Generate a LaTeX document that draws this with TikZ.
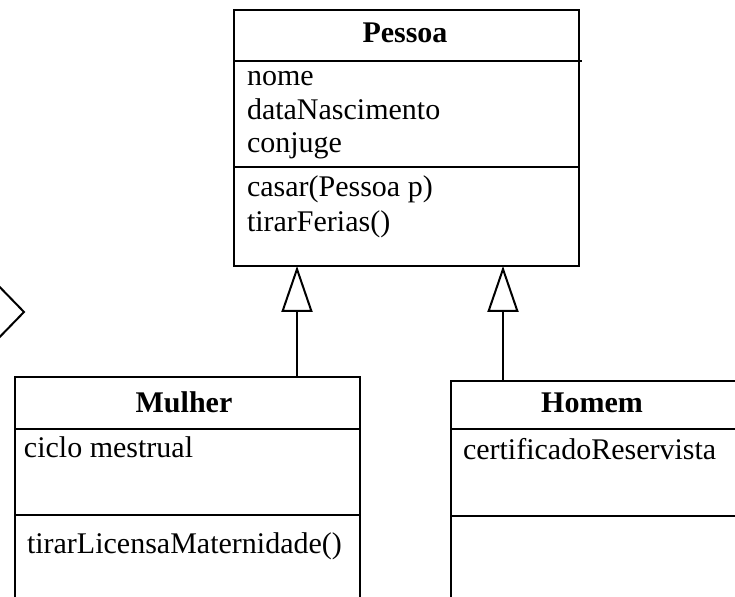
\documentclass[tikz,border=0pt]{standalone}
\usepackage{fontspec}
\setmainfont{Liberation Serif}
\usetikzlibrary{arrows.meta}

\tikzset{
  classbox/.style={draw, line width=1pt, inner sep=0pt, outer sep=0pt},
  member/.style={anchor=base west, inner sep=0pt, font=\fontsize{15}{17}\selectfont},
  classname/.style={anchor=base, inner sep=0pt, font=\fontsize{15}{17}\selectfont\bfseries},
  isa/.style={line width=1pt, -{Triangle[open, width=15.5pt, length=23pt]}},
}

\begin{document}
\begin{tikzpicture}[x=0.5pt, y=-0.5pt, line width=1pt]
\useasboundingbox (0,0) rectangle (735,597);
\clip (0,0) rectangle (735,597);
% classes
\node[classbox, minimum width=172.5pt, minimum height=128pt] (pessoa) at (406.5,138) {}; % Pessoa
\draw (234,61) -- (582,61) ; % Pessoa
\draw (234,167) -- (579,167) ; % Pessoa
\node[classname] (pessoaName) at (405,43) {Pessoa};
\node[member] (nome) at (246,86) {nome};
\node[member] (dataNascimento) at (246,120) {dataNascimento};
\node[member] (conjuge) at (246,153) {conjuge};
\node[member] (casar) at (246,197) {casar(Pessoa p)};
\node[member] (tirarFerias) at (246,232) {tirarFerias()};

\node[classbox, minimum width=172.5pt, minimum height=121.5pt] (mulher) at (187.5,498.5) {}; % Mulher
\draw (15,429) -- (360,429) ; % Mulher
\draw (15,515) -- (360,515) ; % Mulher
\node[classname] (mulherName) at (184,413) {Mulher};
\node[member] (ciclo) at (23,458) {ciclo mestrual};
\node[member] (licensa) at (26,554) {tirarLicensaMaternidade()};

\node[classbox, minimum width=154.5pt, minimum height=119.5pt] (homem) at (605.5,500.5) {}; % Homem
\draw (451,429) -- (760,429) ; % Homem
\draw (451,516) -- (760,516) ; % Homem
\node[classname] (homemName) at (592,413) {Homem};
\node[member] (certificado) at (462,460) {certificadoReservista};

% generalizations
\draw[isa] (297,0 |- mulher.north) -- (297,0 |- pessoa.south);
\draw[isa] (503,0 |- homem.north) -- (503,0 |- pessoa.south);
\draw (-10,277) -- (24,312) -- (-10,347) ; % cut off at left
\end{tikzpicture}
\end{document}
